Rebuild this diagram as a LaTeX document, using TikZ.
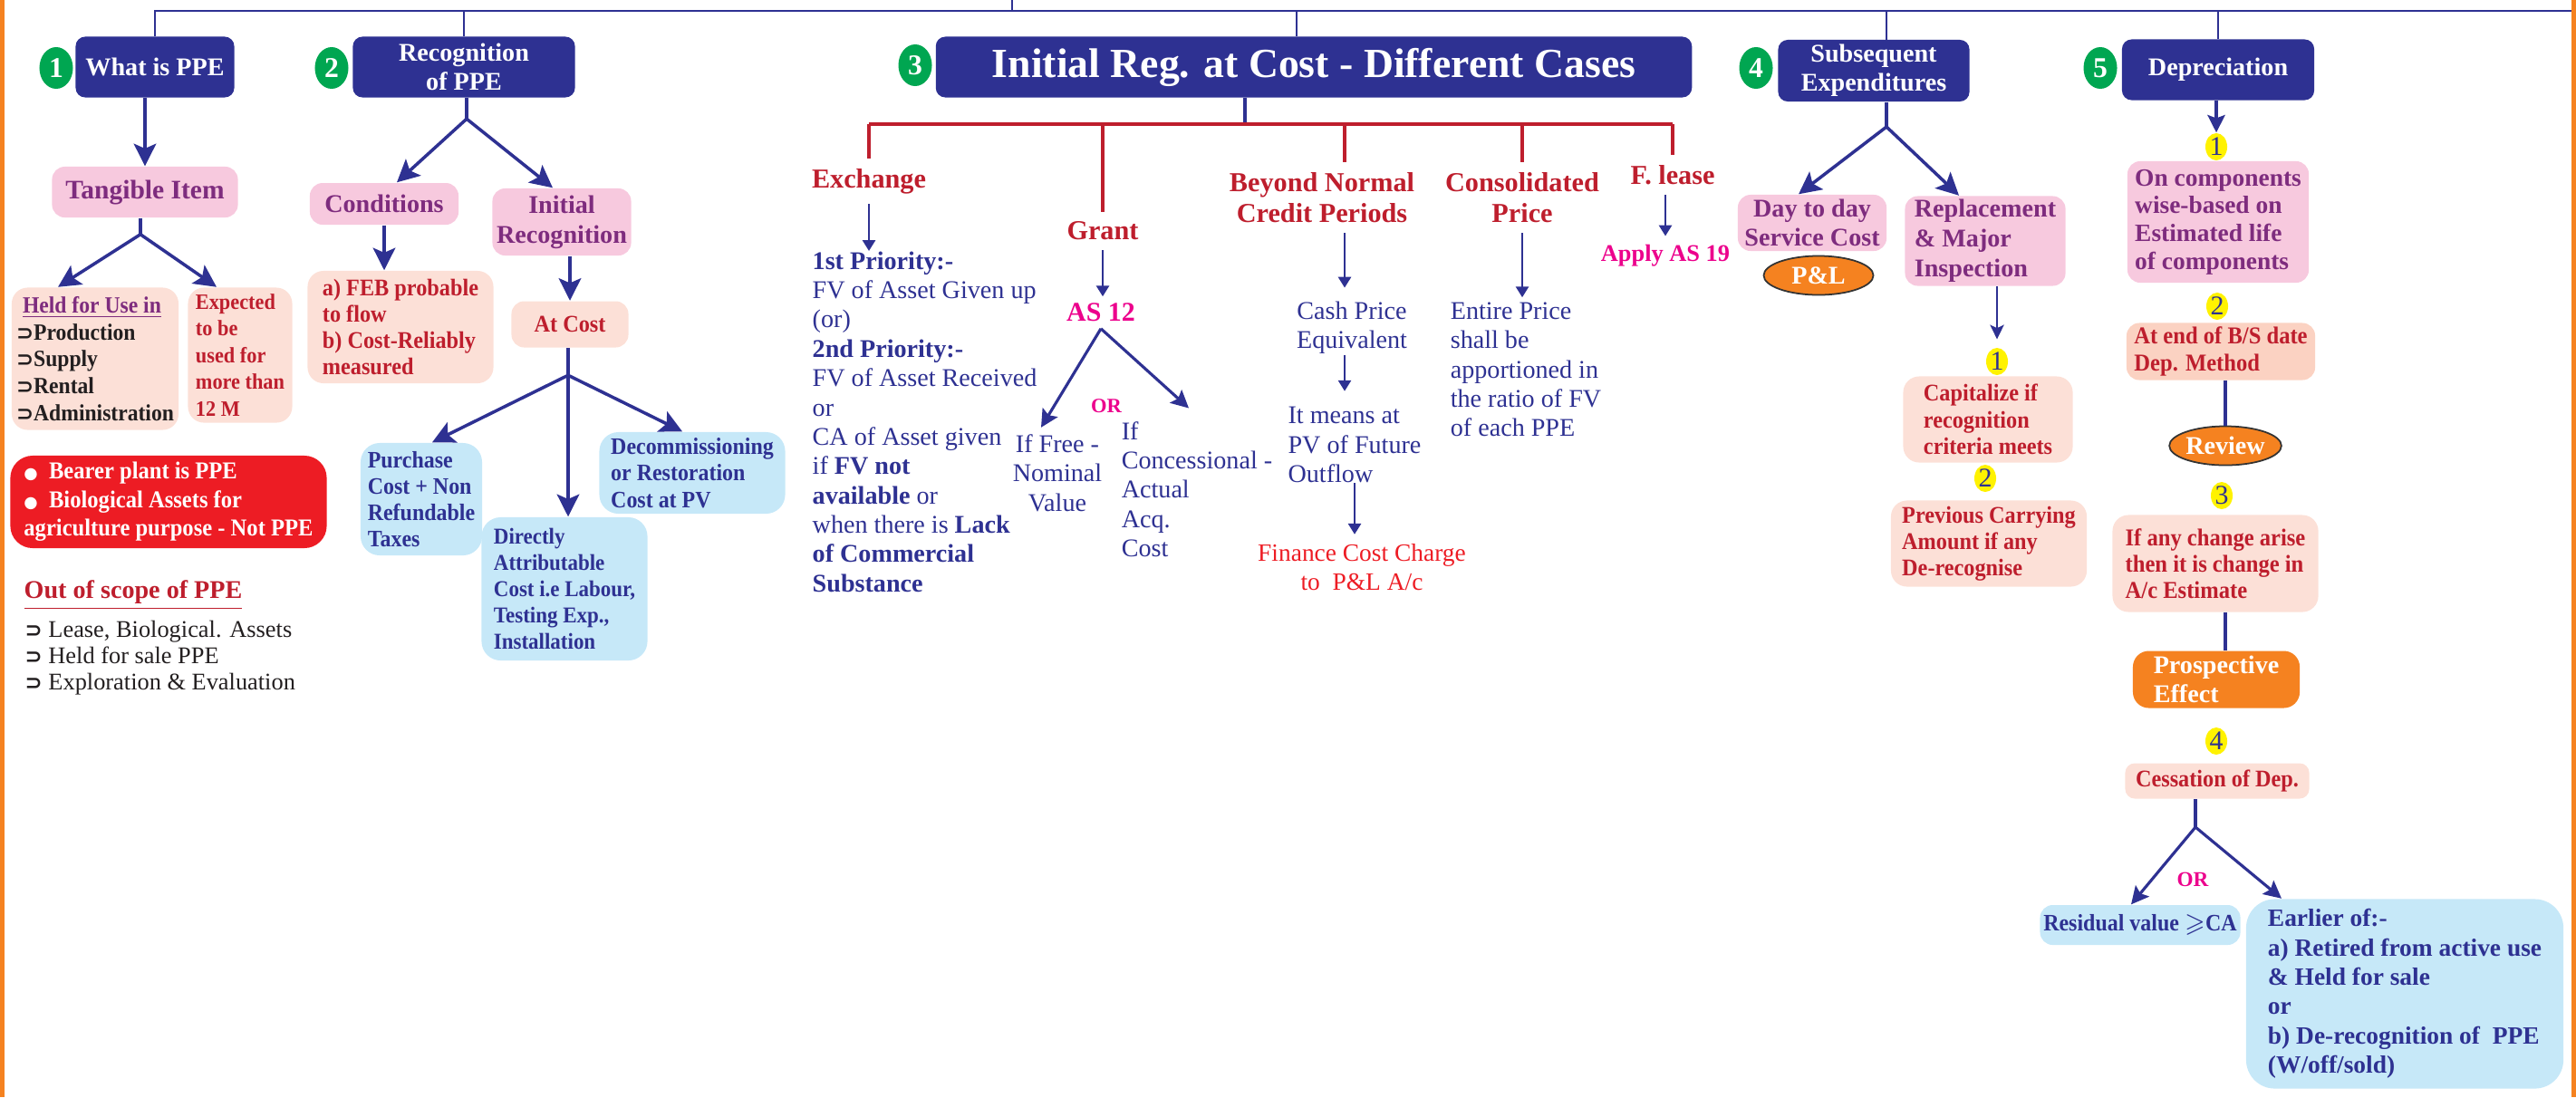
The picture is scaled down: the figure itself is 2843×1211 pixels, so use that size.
\documentclass[tikz,border=0pt]{standalone}
\usepackage{amssymb}
\usepackage{fontspec}
\setmainfont{Liberation Serif}
\newfontfamily\narrow{Liberation Serif}[FakeStretch=0.92]
\newfontfamily\symb{DejaVu Sans}
\usetikzlibrary{arrows.meta, shapes.geometric, calc}

\definecolor{navy}{HTML}{2E3192}
\definecolor{leaf}{HTML}{00A651}
\definecolor{pinkfill}{HTML}{F7C9DE}
\definecolor{plum}{HTML}{7E2C7E}
\definecolor{peach}{HTML}{FCE0D7}
\definecolor{peachdeep}{HTML}{FBD2C2}
\definecolor{brick}{HTML}{BE1E2D}
\definecolor{skyfill}{HTML}{C6E8F8}
\definecolor{alarm}{HTML}{ED1C24}
\definecolor{tang}{HTML}{F58220}
\definecolor{hotpink}{HTML}{EC008C}
\definecolor{lemon}{HTML}{FFF200}
\definecolor{ink}{HTML}{231F20}

\newcommand{\fsz}[2]{\fontsize{#1}{#2}\selectfont}
\newcommand{\ptrmark}{{\symb\bfseries\fsz{6.5}{6.5}\char"2283}}
\newcommand{\blob}{{\symb\fsz{5}{5}\char"25CF}}

\begin{document}
\begin{tikzpicture}[x=0.01cm, y=-0.01cm,
    hdr/.style={fill=navy, text=white, rounded corners=3pt, inner sep=0pt, align=center, font=\bfseries\fsz{8}{9}},
    num/.style={ellipse, fill=leaf, text=white, inner sep=0pt, minimum width=0.37cm, minimum height=0.46cm, font=\bfseries\fsz{9}{9}},
    ynum/.style={ellipse, fill=lemon, text=navy, inner sep=0pt, minimum width=0.24cm, minimum height=0.30cm, font=\fsz{8.5}{8.5}},
    pinkbox/.style={fill=pinkfill, text=plum, rounded corners=4pt, inner sep=0pt, align=center, font=\bfseries\fsz{8}{9.3}},
    peachbox/.style={fill=peach, text=brick, rounded corners=5pt, inner sep=0pt, align=left, font=\narrow\bfseries\fsz{7.5}{8.3}},
    skybox/.style={fill=skyfill, text=navy, rounded corners=6pt, inner sep=0pt, align=left, font=\narrow\bfseries\fsz{7.4}{8.3}},
    note/.style={text=navy, inner sep=0pt, font=\fsz{8}{9.2}},
    case/.style={text=brick, inner xsep=0pt, inner ysep=3pt, align=center, font=\bfseries\fsz{8.6}{9.8}},
    oval/.style={ellipse, draw=black!80, line width=0.5pt, fill=tang, text=white, inner sep=0pt, font=\bfseries\fsz{8}{8}},
    bus/.style={navy, line width=0.8pt},
    stem/.style={navy, line width=1pt},
    feed/.style={navy, line width=1pt, -{Stealth[length=7pt, width=7pt, inset=1.5pt]}},
    midarr/.style={navy, line width=0.9pt, -{Stealth[length=5.5pt, width=5.5pt, inset=1pt]}},
    smallarr/.style={navy, line width=0.8pt, -{Stealth[length=4.5pt, width=4.3pt, inset=1pt]}},
    slim/.style={navy, line width=0.75pt, -{Triangle[length=3.4pt, width=4pt]}},
    redbar/.style={brick, line width=1.2pt},
    reddrop/.style={brick, line width=0.9pt}
  ]
  \useasboundingbox (0,0) rectangle (2843,1211);

  % side borders
  \fill[tang] (0,0) rectangle (5,1211);
  \fill[tang] (2838,0) rectangle (2843,1211);

  % top bus
  \coordinate (root) at (1117,0);
  \coordinate (busL) at (170,12);
  \coordinate (busR) at (2838,12);
  \draw[bus] (busL) -- (busR);
  \draw[bus] (root) -- (root |- busL);

  % section heads
  \node[hdr, minimum width=1.75cm, minimum height=0.67cm] (h1) at (171,74) {What is PPE};
  \node[hdr, minimum width=2.45cm, minimum height=0.67cm] (h2) at (512,74) {Recognition\\of PPE};
  \node[hdr, minimum width=8.34cm, minimum height=0.67cm, font=\bfseries\fsz{13}{14}] (h3) at (1450,74) {Initial Reg. at Cost - Different Cases};
  \node[hdr, minimum width=2.11cm, minimum height=0.68cm] (h4) at (2068,78) {Subsequent\\Expenditures};
  \node[hdr, minimum width=2.12cm, minimum height=0.67cm] (h5) at (2448,77) {Depreciation};
  \node[num] (n1) at (62,75) {1};
  \node[num] (n2) at (366,75) {2};
  \node[num] (n3) at (1010,72) {3};
  \node[num] (n4) at (1938,75) {4};
  \node[num] (n5) at (2318,75) {5};
  \coordinate (d3) at (1431,40);
  \coordinate (d4) at (2082,44);
  \draw[bus] (h1.north |- busL) -- (h1.north);
  \draw[bus] (h2.north |- busL) -- (h2.north);
  \draw[bus] (d3 |- busL) -- (d3);
  \draw[bus] (d4 |- busL) -- (d4);
  \draw[bus] (h5.north |- busL) -- (h5.north);

  % 1 What is PPE
  \node[pinkbox, minimum width=2.05cm, minimum height=0.56cm, font=\bfseries\fsz{8.4}{9}] (tang) at (160,212) {Tangible Item};
  \node[peachbox, text=ink, minimum width=1.84cm, minimum height=1.57cm, font=\narrow\bfseries\fsz{7.3}{8.5}] (held) at (105,396)
    {\hspace{2pt}\textcolor{plum}{\underline{Held for Use in}}\\\ptrmark Production\\\ptrmark Supply\\\ptrmark Rental\\\ptrmark Administration};
  \node[peachbox, minimum width=1.15cm, minimum height=1.49cm, font=\narrow\bfseries\fsz{6.9}{8.4}] (expct) at (265,392)
    {Expected\\to be\\used for\\more than\\12 M};
  \node[peachbox, fill=alarm, text=white, rounded corners=7pt, minimum width=3.49cm, minimum height=1.02cm, font=\narrow\bfseries\fsz{7.6}{9}] (bearer) at (186,554)
    {\blob\ \ Bearer plant is PPE\\\blob\ \ Biological Assets for\\agriculture purpose - Not PPE};
  \node[anchor=west, text=brick, inner sep=0pt, font=\bfseries\fsz{8}{9}] (oost) at (26,657) {\underline{Out of scope of PPE}};
  \node[anchor=west, text=ink, inner sep=0pt, align=left, font=\fsz{7.5}{8.3}] (oosl) at (27,726)
    {\ptrmark\ Lease, Biological. Assets\\\ptrmark\ Held for sale PPE\\\ptrmark\ Exploration \& Evaluation};
  \draw[feed] (tang.north |- h1.south) -- (tang.north);
  \coordinate (t1) at ($(tang.south)+(-5,18)$);
  \draw[stem] (t1 |- tang.south) -- (t1);
  \draw[feed] (t1) -- ($(held.north)+(-41,0)$);
  \draw[feed] (t1) -- ($(expct.north)+(-26,0)$);

  % 2 Recognition of PPE
  \node[pinkbox, minimum width=1.64cm, minimum height=0.46cm] (cond) at (424,225) {Conditions};
  \node[pinkbox, minimum width=1.53cm, minimum height=0.74cm, font=\bfseries\fsz{8}{9.4}] (initrec) at (620,245) {Initial\\Recognition};
  \node[peachbox, minimum width=2.05cm, minimum height=1.24cm] (feb) at (442,361)
    {a) FEB probable\\to flow\\b) Cost-Reliably\\measured};
  \node[peachbox, align=center, rounded corners=4pt, minimum width=1.29cm, minimum height=0.51cm] (atcost) at (629,358) {At Cost};
  \node[skybox, minimum width=1.34cm, minimum height=1.24cm] (purch) at (465,551)
    {Purchase\\Cost + Non\\Refundable\\Taxes};
  \node[skybox, minimum width=1.83cm, minimum height=1.58cm, font=\narrow\bfseries\fsz{7.1}{8.3}] (direct) at (623,650)
    {Directly\\Attributable\\Cost i.e Labour,\\Testing Exp.,\\Installation};
  \node[skybox, minimum width=2.05cm, minimum height=0.90cm] (decom) at (764,522)
    {Decommissioning\\or Restoration\\Cost at PV};
  \coordinate (r1) at ($(h2.south)+(3,23)$);
  \draw[stem] (r1 |- h2.south) -- (r1);
  \draw[feed] (r1) -- ($(cond.north)+(14,0)$);
  \draw[feed] (r1) -- ($(initrec.north)+(-10,0)$);
  \draw[feed] (cond.south) -- (cond.south |- feb.north);
  \draw[feed] (atcost.north |- initrec.south) -- (atcost.north);
  \coordinate (r2) at ($(atcost.south)+(-2,30)$);
  \draw[stem] (r2 |- atcost.south) -- (r2);
  \draw[feed] (r2) -- ($(purch.north)+(12,0)$);
  \draw[feed] (r2) -- (r2 |- direct.north);
  \draw[feed] (r2) -- ($(decom.north)+(-11,0)$);

  % 3 Initial recognition cases
  \node[case] (exch) at (959,200) {Exchange};
  \node[case] (grant) at (1217,255) {Grant};
  \node[case] (beyond) at (1459,218) {Beyond Normal\\Credit Periods};
  \node[case] (consol) at (1680,218) {Consolidated\\Price};
  \node[case] (flease) at (1846,193) {F. lease};
  \coordinate (rb) at (1374,137);
  \coordinate (bd) at (1484,137);
  \draw[stem] (rb |- h3.south) -- (rb);
  \draw[redbar] (exch.north |- rb) -- (flease.north |- rb);
  \draw[reddrop] (exch.north |- rb) -- (exch.north);
  \draw[reddrop] (grant.north |- rb) -- (grant.north);
  \draw[reddrop] (bd) -- (bd |- beyond.north);
  \draw[reddrop] (consol.north |- rb) -- (consol.north);
  \draw[reddrop] (flease.north |- rb) -- (flease.north);

  \node[note, anchor=north west, align=left] (exblk) at (896,277)
    {\textbf{1st Priority:-}\\FV of Asset Given up\\(or)\\\textbf{2nd Priority:-}\\FV of Asset Received\\or\\CA of Asset given\\if \textbf{FV not}\\\textbf{available} or\\when there is \textbf{Lack}\\\textbf{of Commercial}\\\textbf{Substance}};
  \draw[slim] (exch.south) -- (exch.south |- exblk.north);

  \node[text=hotpink, inner xsep=0pt, inner ysep=2pt, font=\bfseries\fsz{8.5}{9}] (as12) at (1215,345) {AS 12};
  \draw[slim] (grant.south) -- (grant.south |- as12.north);
  \node[note, align=center, inner ysep=2pt] (free) at (1167,522) {If Free -\\Nominal\\Value};
  \node[note, align=left, inner ysep=4pt] (conc) at (1321,540) {If\\Concessional -\\Actual\\Acq.\\Cost};
  \draw[midarr] (as12.south) -- ($(free.north)+(-18,0)$);
  \draw[midarr] (as12.south) -- ($(conc.north)+(-9,0)$);
  \node[text=hotpink, inner sep=0pt, font=\bfseries\fsz{6.4}{7}] (or1) at (1221,448) {OR};

  \node[note, align=center] (cash) at (1492,362) {Cash Price\\Equivalent};
  \node[note, align=left] (means) at (1495,491) {It means at\\PV of Future\\Outflow};
  \node[note, text=alarm, align=center, font=\fsz{7.8}{9.1}] (fin) at (1503,626) {Finance Cost Charge\\to\ \ P\&L A/c};
  \node[note, align=left] (entire) at (1684,408) {Entire Price\\shall be\\apportioned in\\the ratio of FV\\of each PPE};
  \node[text=hotpink, inner sep=0pt, font=\bfseries\fsz{7.5}{8}] (apply) at (1838,282) {Apply AS 19};
  \draw[slim, shorten >=4.2pt] (bd |- beyond.south) -- (bd |- cash.north);
  \draw[slim, shorten >=4.8pt] (bd |- cash.south) -- (bd |- means.north);
  \draw[slim, shorten >=2.8pt] (means.south) -- (means.south |- fin.north);
  \draw[slim, shorten >=1.4pt] (consol.south) -- (consol.south |- entire.north);
  \draw[slim, shorten >=2.5pt] (apply.north |- flease.south) -- (apply.north);

  % 4 Subsequent expenditures
  \coordinate (s4) at (2082,140);
  \draw[stem] (s4 |- h4.south) -- (s4);
  \node[pinkbox, minimum width=1.64cm, minimum height=0.62cm] (day) at (2000,246) {Day to day\\Service Cost};
  \node[pinkbox, minimum width=1.77cm, minimum height=0.99cm, align=left, font=\bfseries\fsz{8}{9.4}] (repl) at (2191,266) {Replacement\\\& Major\\Inspection};
  \node[oval, minimum width=1.21cm, minimum height=0.43cm] (pl) at (2007,304) {P\&L};
  \draw[feed] (s4) -- ($(day.north)+(-15,0)$);
  \draw[feed] (s4) -- ($(repl.north)+(-29,0)$);
  \node[ynum] (y41) at (2204,399) {1};
  \draw[smallarr, shorten >=2.5pt] (y41 |- repl.south) -- (y41.north);
  \node[peachbox, minimum width=1.87cm, minimum height=0.95cm] (capit) at (2194,463) {Capitalize if\\recognition\\criteria meets};
  \node[ynum] (y42) at (2191,528) {2};
  \node[peachbox, minimum width=2.16cm, minimum height=0.95cm] (prev) at (2195,600) {Previous Carrying\\Amount if any\\De-recognise};

  % 5 Depreciation
  \node[ynum] (y51) at (2446,162) {1};
  \draw[midarr] (y51 |- h5.south) -- (y51.north);
  \node[pinkbox, minimum width=2.0cm, minimum height=1.34cm, align=left, font=\bfseries\fsz{7.8}{8.7}] (comp) at (2448,245)
    {On components\\wise-based on\\Estimated life\\of components};
  \node[ynum] (y52) at (2447,338) {2};
  \node[peachbox, fill=peachdeep, rounded corners=4pt, minimum width=2.08cm, minimum height=0.63cm, font=\narrow\bfseries\fsz{7.6}{8.5}] (atend) at (2451,388)
    {At end of B/S date\\Dep. Method};
  \node[oval, minimum width=1.21cm, minimum height=0.43cm] (review) at (2456,492) {Review};
  \draw[stem] (review.north |- atend.south) -- (review.north);
  \node[ynum] (y53) at (2452,547) {3};
  \node[peachbox, minimum width=2.27cm, minimum height=1.07cm, font=\narrow\bfseries\fsz{7.6}{8.2}] (ifany) at (2445,622)
    {If any change arise\\then it is change in\\A/c Estimate};
  \node[peachbox, fill=tang, text=white, minimum width=1.84cm, minimum height=0.63cm, font=\bfseries\fsz{8}{9}] (prosp) at (2446,750)
    {Prospective\\Effect};
  \draw[stem] (review |- ifany.south) -- (review |- prosp.north);
  \node[ynum] (y54) at (2446,818) {4};
  \node[peachbox, align=center, rounded corners=3pt, minimum width=2.03cm, minimum height=0.39cm] (cess) at (2447,862) {Cessation of Dep.};
  \coordinate (s5) at (2423,913);
  \draw[stem] (s5 |- cess.south) -- (s5);
  \node[skybox, align=center, rounded corners=4pt, minimum width=2.21cm, minimum height=0.44cm, font=\narrow\bfseries\fsz{7.4}{8}] (resid) at (2362,1021)
    {Residual value $\geqslant$CA};
  \node[skybox, rounded corners=9pt, minimum width=3.50cm, minimum height=2.09cm, font=\bfseries\fsz{7.8}{9.2}] (early) at (2654,1097)
    {Earlier of:-\\a) Retired from active use\\\& Held for sale\\or\\b) De-recognition of~ PPE\\(W/off/sold)};
  \draw[midarr] (s5) -- ($(resid.north)+(-10,0)$);
  \draw[midarr] (s5) -- ($(early.north)+(-136,0)$);
  \node[text=hotpink, inner sep=0pt, font=\bfseries\fsz{6.6}{7}] (or2) at (2420,971) {OR};
\end{tikzpicture}
\end{document}
